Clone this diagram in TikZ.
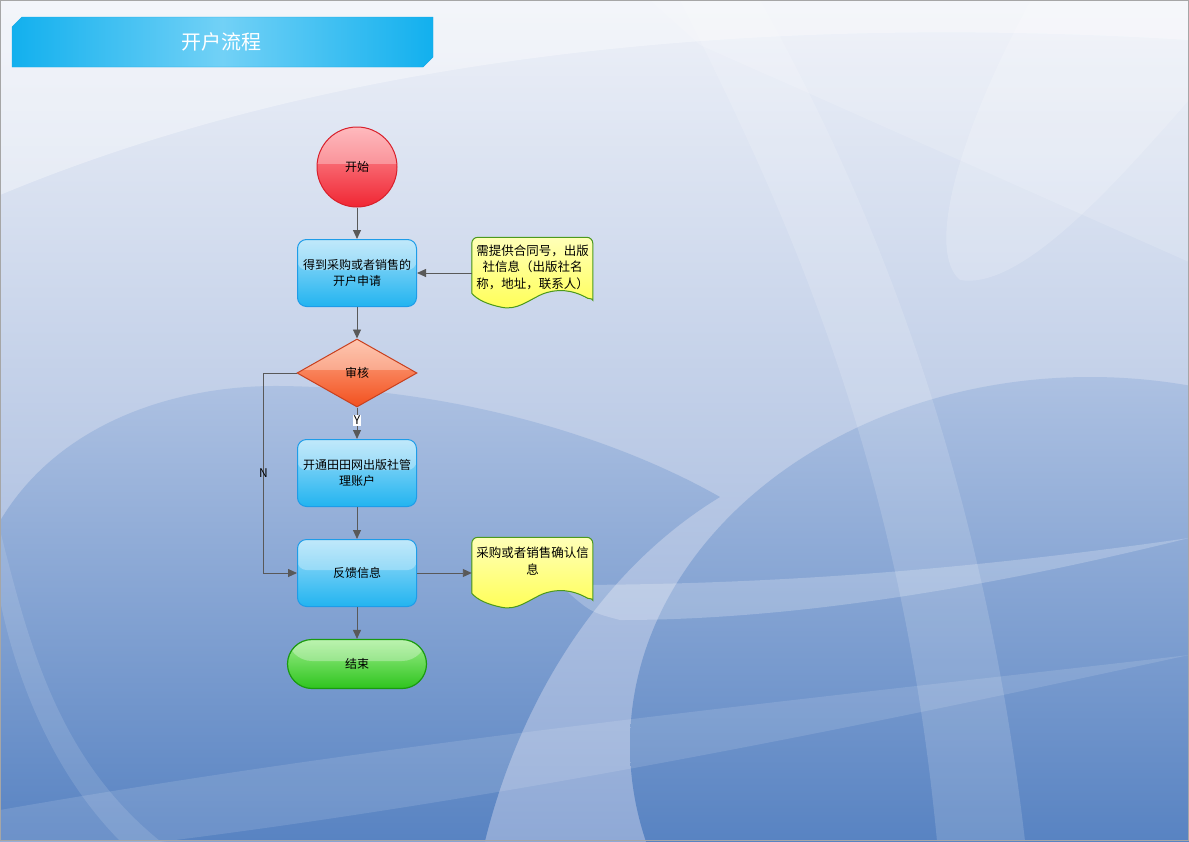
\documentclass[tikz,border=0pt]{standalone}
\usepackage{fontspec}
\setmainfont{Noto Sans CJK SC}
\usetikzlibrary{arrows.meta,shapes.geometric,positioning,calc}

\definecolor{bgoben}{HTML}{EEF1F8}
\definecolor{bgmitte}{HTML}{CDD8EC}
\definecolor{bgunten}{HTML}{8FA9D6}
\definecolor{blobhell}{HTML}{ADC1E2}
\definecolor{blobdunkel}{HTML}{5883C2}
\definecolor{linie}{HTML}{595959}
\definecolor{titelrand}{HTML}{14A9E8}
\definecolor{titeldunkel}{HTML}{12B0EE}
\definecolor{titelhell}{HTML}{72D1F6}
\definecolor{boxrand}{HTML}{1E9CE8}
\definecolor{boxhell}{HTML}{A5DFF9}
\definecolor{boxdunkel}{HTML}{22B4F0}
\definecolor{startrand}{HTML}{D8202B}
\definecolor{starthell}{HTML}{FF9CA2}
\definecolor{startdunkel}{HTML}{F02633}
\definecolor{rautenrand}{HTML}{C8401E}
\definecolor{rautenhell}{HTML}{FFAE8E}
\definecolor{rautendunkel}{HTML}{F2501E}
\definecolor{endrand}{HTML}{1A9A10}
\definecolor{endhell}{HTML}{9EEE8C}
\definecolor{enddunkel}{HTML}{2EC41E}
\definecolor{notizrand}{HTML}{4C9A1C}
\definecolor{notizhell}{HTML}{FFFFB8}
\definecolor{notizdunkel}{HTML}{FFFF55}

\tikzset{
  glanz/.style={path picture={\fill[white,opacity=0.3]
      (path picture bounding box.north west) rectangle
      ($(path picture bounding box.east)+(0,3pt)$);}},
  kasten/.style={rectangle, rounded corners=9pt, draw=boxrand, line width=1pt,
    top color=boxhell, bottom color=boxdunkel, glanz,
    minimum width=119pt, minimum height=67pt, text width=117pt, inner sep=1pt,
    align=center, font=\fontsize{12}{16}\selectfont},
  startkreis/.style={circle, draw=startrand, line width=1pt, top color=starthell,
    bottom color=startdunkel, glanz, minimum size=80pt, inner sep=0pt,
    font=\fontsize{12}{16}\selectfont},
  raute/.style={diamond, draw=rautenrand, line width=1pt, top color=rautenhell,
    bottom color=rautendunkel, glanz, minimum width=120pt, minimum height=68pt,
    inner sep=0pt, font=\fontsize{12}{16}\selectfont},
  ende/.style={rectangle, rounded corners=24.5pt, draw=endrand, line width=1.2pt,
    top color=endhell, bottom color=enddunkel, glanz, minimum width=139pt,
    minimum height=49pt, font=\fontsize{12}{16}\selectfont},
  notiz/.style={rectangle, minimum width=121pt, minimum height=71pt, inner sep=0pt},
  notiztext/.style={text width=120pt, align=center, inner sep=0pt,
    font=\fontsize{12.5}{16.5}\selectfont},
  pfeil/.style={draw=linie, line width=0.9pt, -{Triangle[length=9pt,width=8pt]}},
  marke/.style={font=\fontsize{12}{13}\selectfont, inner sep=1pt},
  hell/.style={fill=white, opacity=#1},
  hell/.default=0.2
}

% Notizblatt mit Wellenkante
\newcommand{\notizform}[1]{%
  \begin{scope}[shift={(#1.north west)}]
    \filldraw[draw=notizrand, line width=1pt, top color=notizhell, bottom color=notizdunkel]
      [rounded corners=6pt] (0,52) -- (0,0) -- (121,0) -- (121,57)
      [sharp corners] .. controls (121,61) and (119,62) .. (116,61)
      .. controls (100,52) and (85,51) .. (70,57)
      .. controls (55,64) and (45,73) .. (30,70)
      .. controls (15,67) and (5,62) .. (0,56) -- cycle;
  \end{scope}}

\begin{document}
\begin{tikzpicture}[x=1pt,y=-1pt]
  \useasboundingbox (0,0) rectangle (1189,841);

  % Hintergrund
  \begin{scope}
    \clip (0,0) rectangle (1189,841);
    \shade[top color=bgoben, middle color=bgmitte, bottom color=bgunten] (0,0) rectangle (1189,841);
    \fill[hell=0.35] (0,195) .. controls (300,70) and (700,10) .. (1189,40)
      -- (1189,0) -- (0,0) -- cycle;
    \fill[hell=0.15] (700,45) -- (1189,262) -- (1189,0) -- (650,0) -- cycle;
    \fill[hell=0.18] (1031,0) .. controls (960,130) and (925,250) .. (960,280)
      .. controls (1020,290) and (1110,190) .. (1189,100) -- (1189,0) -- cycle;
    % linke Flaeche
    \begin{scope}
      \clip (0,521) .. controls (60,420) and (180,385) .. (280,386)
        .. controls (460,388) and (620,440) .. (720,497)
        .. controls (600,570) and (520,700) .. (485,841) -- (0,841) -- cycle;
      \shade[top color=blobhell, bottom color=blobdunkel] (0,385) rectangle (720,841);
    \end{scope}
    % rechte Flaeche
    \begin{scope}
      \clip (1090,745) ellipse [x radius=460pt, y radius=368pt];
      \shade[top color=blobhell, bottom color=blobdunkel] (600,377) rectangle (1189,841);
    \end{scope}
    % helle Schwuenge
    \fill[hell=0.15] (680,0) .. controls (780,200) and (900,450) .. (937,841)
      -- (1025,841) .. controls (980,450) and (860,180) .. (760,0) -- cycle;
    \fill[hell=0.22] (560,585) .. controls (800,585) and (1000,565) .. (1189,538)
      .. controls (1000,585) and (800,620) .. (620,620) .. controls (590,612) .. (560,585) -- cycle;
    \fill[hell=0.12] (0,810) .. controls (400,740) and (800,700) .. (1189,655)
      .. controls (800,740) and (400,820) .. (0,860) -- cycle;
    \fill[hell=0.12] (0,530) .. controls (30,650) and (60,760) .. (160,841)
      -- (120,841) .. controls (40,760) and (10,650) .. (0,600) -- cycle;
  \end{scope}
  \draw[gray!70] (0.5,0.5) rectangle (1188.5,840.5);

  % Titelleiste
  \shade[draw=titelrand, left color=titeldunkel, right color=titeldunkel, middle color=titelhell]
    (12,27) -- (22,17) -- (433,17) -- (433,57) -- (423,67) -- (12,67) -- cycle;
  \node[text=white, font=\fontsize{20}{24}\selectfont] (titel) at (221,42) {开户流程};

  % Ablauf
  \node[startkreis] (start) at (357,167) {开始};
  \node[kasten] (antrag) at (357,273) {得到采购或者销售的\\开户申请};
  \node[raute] (pruefung) at (357,373) {审核};
  \node[kasten] (konto) at (357,473) {开通田田网出版社管\\理账户};
  \node[kasten] (feedback) at (357,573) {反馈信息};
  \node[ende] (schluss) at (357,664) {结束};

  % Notizen
  \node[notiz] (info1) at (532.5,273) {};
  \node[notiz] (info2) at (532.5,573) {};
  \notizform{info1}
  \notizform{info2}
  \node[notiztext] (info1text) at ([yshift=6pt]info1.center) {需提供合同号，出版\\社信息（出版社名\\称，地址，联系人）};
  \node[notiztext] (info2text) at ([yshift=12pt]info2.center) {采购或者销售确认信\\息};

  % Verbindungen
  \draw[pfeil] (start) -- (antrag);
  \draw[pfeil] (antrag) -- (pruefung);
  \draw[pfeil] (pruefung) -- node[marke, fill=white, pos=0.4] {Y} (konto);
  \draw[pfeil] (konto) -- (feedback);
  \draw[pfeil] (feedback) -- (schluss);
  \draw[pfeil] (pruefung.west) -- ++(-33,0) |- node[marke, pos=0.25] {N} (feedback.west);
  \draw[pfeil] (info1.west) -- (antrag.east);
  \draw[pfeil] (feedback.east) -- (info2.west);
\end{tikzpicture}
\end{document}
